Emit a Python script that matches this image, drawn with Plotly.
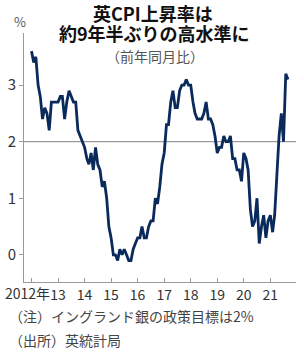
import plotly.graph_objects as go
import pandas as pd

# UK CPI, 12-month rate (%), monthly from Jan 2012 to Sep 2021
cpi = [
    3.6, 3.4, 3.5, 3.0, 2.8, 2.4, 2.6, 2.5, 2.2, 2.7, 2.7, 2.7,   # 2012
    2.7, 2.8, 2.8, 2.4, 2.7, 2.9, 2.8, 2.7, 2.7, 2.2, 2.1, 2.0,   # 2013
    1.9, 1.7, 1.6, 1.8, 1.5, 1.9, 1.6, 1.5, 1.2, 1.3, 1.0, 0.5,   # 2014
    0.3, 0.0, 0.0, -0.1, 0.1, 0.0, 0.1, 0.0, -0.1, -0.1, 0.1, 0.2,  # 2015
    0.3, 0.3, 0.5, 0.3, 0.3, 0.5, 0.6, 0.6, 1.0, 0.9, 1.2, 1.6,   # 2016
    1.8, 2.3, 2.3, 2.7, 2.9, 2.6, 2.6, 2.9, 3.0, 3.0, 3.1, 3.0,   # 2017
    3.0, 2.7, 2.5, 2.4, 2.4, 2.4, 2.5, 2.7, 2.4, 2.4, 2.3, 2.1,   # 2018
    1.8, 1.9, 1.9, 2.1, 2.0, 2.0, 2.1, 1.7, 1.7, 1.5, 1.5, 1.3,   # 2019
    1.8, 1.7, 1.5, 0.8, 0.5, 0.6, 1.0, 0.2, 0.5, 0.7, 0.3, 0.6,   # 2020
    0.7, 0.4, 0.7, 1.5, 2.1, 2.5, 2.0, 3.2, 3.1,                  # 2021
]
months = pd.date_range("2012-01-01", periods=len(cpi), freq="MS")

tick_years = [2012, 2013, 2014, 2015, 2016, 2017, 2018, 2019, 2020, 2021]
tick_labels = ["2012年", "13", "14", "15", "16", "17", "18", "19", "20", "21"]
y_ticks = [0, 1, 2, 3]
target = 2

title_lines = ["英CPI上昇率は", "約9年半ぶりの高水準に"]
subtitle = "（前年同月比）"
note1 = "（注）イングランド銀の政策目標は2%"
note2 = "（出所）英統計局"

FONT = "Noto Sans CJK JP"
TICKFONT = "Liberation Sans Narrow, Noto Sans CJK JP"

fig = go.Figure()
fig.add_trace(go.Scatter(
    x=months, y=cpi, mode="lines",
    line=dict(color="#0b2a5c", width=2.8),
    hoverinfo="skip",
))

fig.add_shape(type="line", xref="paper", x0=0, x1=1, yref="y", y0=target, y1=target,
              line=dict(color="#9a9a9a", width=1.2), layer="below")

# first label ("2012年") is drawn as a right-aligned text so it ends before "13"
axis_ticktext = [""] + tick_labels[1:]

fig.update_layout(
    width=304, height=352,
    margin=dict(l=19, r=8, t=33, b=70),
    paper_bgcolor="white", plot_bgcolor="white",
    showlegend=False,
    font=dict(family=FONT, color="#333333", size=14),
    xaxis=dict(
        range=["2011-09-20", "2021-12-20"],
        tickvals=[f"{y}-01-01" for y in tick_years],
        ticktext=axis_ticktext,
        tickangle=0,
        showgrid=False, zeroline=False,
        showline=True, linecolor="#9a9a9a", linewidth=1,
        ticks="inside", ticklen=4, tickcolor="#9a9a9a",
        tickfont=dict(family=TICKFONT, size=14, color="#333333"),
    ),
    yaxis=dict(
        range=[-0.48, 3.92],
        tickvals=y_ticks,
        showgrid=False, zeroline=False,
        showline=True, linecolor="#9a9a9a", linewidth=1,
        ticks="outside", ticklen=4, tickcolor="#9a9a9a",
        tickfont=dict(family=TICKFONT, size=15, color="#333333"),
    ),
)

plot_h = 352 - 33 - 70
plot_w = 304 - 19 - 8
def px_to_paper(px, py):
    return (px - 19) / plot_w, (352 - 70 - py) / plot_h

for text, px, py, size, color, bold, anchor in [
    (title_lines[0], 150, 13, 18, "#111111", True, "center"),
    (title_lines[1], 152, 33, 18, "#111111", True, "center"),
    (subtitle, 152, 56, 14, "#555555", False, "center"),
    ("%", 15, 21, 13, "#555555", False, "center"),
    (note1, 2, 316, 14, "#444444", False, "left"),
    (note2, 2, 340, 14, "#444444", False, "left"),
]:
    xp, yp = px_to_paper(px, py)
    fig.add_annotation(
        text=f"<b>{text}</b>" if bold else text,
        xref="paper", yref="paper", x=xp, y=yp,
        xanchor=anchor, yanchor="middle", showarrow=False,
        font=dict(family=FONT, size=size, color=color),
    )

# "2012年" label, anchored at the 2012 tick, right-aligned so it ends before "13"
fig.add_annotation(
    text=tick_labels[0], xref="x", yref="paper",
    x=f"{tick_years[0]}-01-01", y=0, yanchor="top", xanchor="right",
    xshift=20, yshift=0, borderpad=0, showarrow=False,
    font=dict(family=TICKFONT, size=14, color="#333333"),
)

fig.write_html("out.html")
